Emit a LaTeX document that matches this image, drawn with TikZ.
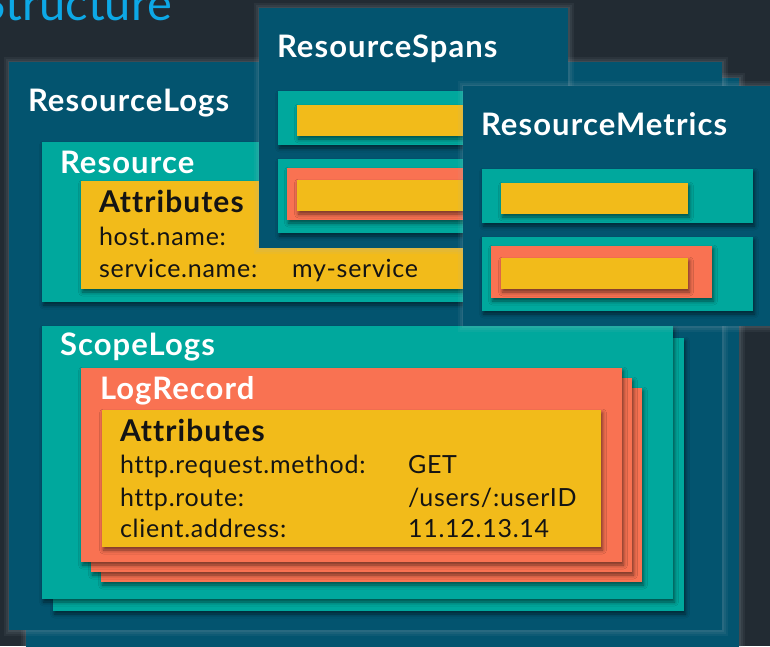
\documentclass[tikz,border=0pt]{standalone}
\usepackage{fontspec}
\setmainfont{Lato}
\newfontfamily\headfont{Lato}[LetterSpace=3.5, Ligatures=NoCommon]
\newfontfamily\bodyfont{Lato}[LetterSpace=3.0, Ligatures=NoCommon]
\usetikzlibrary{shadows.blur}

\definecolor{bgdark}{HTML}{222B33}
\definecolor{deepteal}{HTML}{03546F}
\definecolor{tealfill}{HTML}{00A89D}
\definecolor{coral}{HTML}{F97252}
\definecolor{amber}{HTML}{F2BB1A}
\definecolor{skyblue}{HTML}{0DA8E6}
\definecolor{glow}{HTML}{A9B7BF}
\definecolor{ink}{HTML}{141414}

\tikzset{
  every node/.style={inner sep=0pt, outer sep=0pt},
  titletext/.style={font=\fontsize{47}{50}\selectfont, text=skyblue, anchor=base east},
  heading/.style={font=\headfont\fontsize{31}{33}\selectfont\bfseries, text=white, anchor=base west},
  attrhead/.style={font=\headfont\fontsize{30}{32}\selectfont\bfseries, text=ink, anchor=base west},
  attrtext/.style={font=\bodyfont\fontsize{25}{28}\selectfont, text=ink, anchor=base west},
  layer/.style={blur shadow={shadow xshift=1.5pt, shadow yshift=-3pt,
      shadow blur radius=4pt, shadow opacity=55}},
  outerbox/.style={fill=deepteal,
      preaction={draw=glow, draw opacity=0.07, line width=11pt},
      preaction={draw=glow, draw opacity=0.08, line width=7pt},
      preaction={draw=glow, draw opacity=0.10, line width=3pt}},
  tealbox/.style={fill=tealfill, layer},
  coralbox/.style={fill=coral, layer},
  amberbox/.style={fill=amber, layer},
  % one resource container with two placeholder rows
  pics/resbox/.style={code={
    \path[outerbox] (0,0) rectangle (309,240);
    \node[heading] (-title) at (18,49) {#1};
    \path[tealbox] (19,83) rectangle (290,137);
    \path[amberbox] (38,97) rectangle (225,128);
    \path[tealbox] (19,151) rectangle (290,225);
    \path[coralbox] (28,160) rectangle (249,212);
    \path[amberbox] (38,172) rectangle (225,203);
  }},
}

\begin{document}
\begin{tikzpicture}[x=1pt, y=-1pt]
\useasboundingbox (0,0) rectangle (770,646);
\clip (0,0) rectangle (770,646);
\fill[bgdark] (0,0) rectangle (770,646);

\node[titletext] (title) at (172,20) {Structure};

% ResourceLogs stack
\path[outerbox] (26,78) rectangle (739,690);
\path[outerbox] (9,62) rectangle (722,630);
\node[heading] (logs) at (28,111) {ResourceLogs};

% Resource with its attributes
\path[tealbox] (42,142) rectangle (690,302);
\node[heading] (resource) at (60,173) {Resource};
\path[amberbox] (81,181) rectangle (600,289);
\node[attrhead] (resattr) at (99,212) {Attributes};
\node[attrtext] (hostkey) at (99,245) {host.name:};
\node[attrtext] (servicekey) at (99,277) {service.name:};
\node[attrtext] (serviceval) at (292,277) {my-service};

% ScopeLogs stack
\path[tealbox] (53,338) rectangle (684,611);
\path[tealbox] (42,326) rectangle (673,599);
\node[heading] (scope) at (60,355) {ScopeLogs};

% LogRecord stack
\path[coralbox] (101,388) rectangle (642,582);
\path[coralbox] (91,378) rectangle (632,572);
\path[coralbox] (81,368) rectangle (622,562);
\node[heading] (record) at (100,399) {LogRecord};
\path[amberbox] (102,410) rectangle (601,547);
\node[attrhead] (logattr) at (120,441) {Attributes};
\node[attrtext] (methodkey) at (120,473) {http.request.method:};
\node[attrtext] (methodval) at (408,473) {GET};
\node[attrtext] (routekey) at (120,506) {http.route:};
\node[attrtext] (routeval) at (408,506) {/users/:userID};
\node[attrtext] (addrkey) at (120,537) {client.address:};
\node[attrtext] (addrval) at (408,537) {11.12.13.14};

% ResourceSpans and ResourceMetrics containers
\pic (spans) at (259,8) {resbox=ResourceSpans};
\pic (metrics) at (463,86) {resbox=ResourceMetrics};
\end{tikzpicture}
\end{document}
